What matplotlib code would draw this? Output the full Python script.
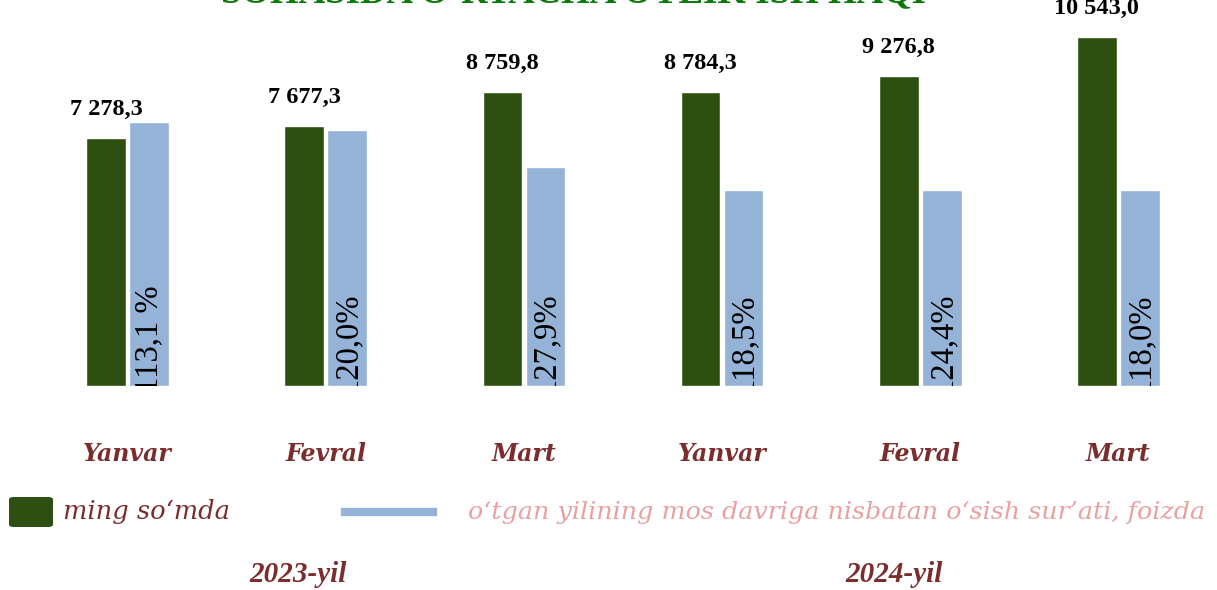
import numpy as np
import matplotlib.pyplot as plt
from matplotlib.patches import FancyBboxPatch
from matplotlib.lines import Line2D

months = ['Yanvar', 'Fevral', 'Mart', 'Yanvar', 'Fevral', 'Mart']
years = ['2023-yil', '2024-yil']
salary = [7278.3, 7677.3, 8759.8, 8784.3, 9276.8, 10543.0]
salary_labels = ['7 278,3', '7 677,3', '8 759,8', '8 784,3', '9 276,8', '10 543,0']
growth_labels = ['113,1 %', '120,0%', '127,9%', '118,5%', '124,4%', '118,0%']
# heights of the blue bars as drawn in the picture (same scale as salary)
growth_bar = [7810, 7550, 6360, 5620, 5620, 5620]

green = '#2d5011'
blue = '#95b3d7'
maroon = '#7b2d2d'
pink = '#e8a0a0'

base = -700  # the value axis does not start at zero in the original

fig = plt.figure(figsize=(12.17, 5.90), dpi=100)
ax = fig.add_axes([28.5 / 1217, 204 / 590, 1189 / 1217, 386 / 590])

x = np.arange(len(months))
off = 0.1086
w = 0.2
ax.bar(x - off, np.array(salary) - base, w, bottom=base, color=green,
       edgecolor='white', linewidth=1)
ax.bar(x + off, np.array(growth_bar) - base, w, bottom=base, color=blue,
       edgecolor='white', linewidth=1)

for xi, v, lab in zip(x, salary, salary_labels):
    ax.annotate(lab, (xi - off, v), xytext=(0, 13), textcoords='offset points',
                ha='center', va='bottom', fontsize=17.5, fontweight='bold',
                family='Liberation Serif')

for xi, lab in zip(x, growth_labels):
    ax.annotate(lab, (xi + off, base), xytext=(0, -5), textcoords='offset points',
                ha='center', va='bottom', rotation=90, fontsize=23.5,
                family='Liberation Serif', clip_on=True)

ax.set_xlim(-0.5, 5.5)
ax.set_ylim(base, 11740)
ax.set_xticks(x, months)
ax.tick_params(axis='x', length=0, pad=40, labelsize=17, labelcolor=maroon)
for t in ax.get_xticklabels():
    t.set_family('DejaVu Serif')
    t.set_fontweight('bold')
    t.set_fontstyle('italic')
ax.set_yticks([])
for s in ax.spines.values():
    s.set_visible(False)

# title (cut at the top edge)
fig.text(0.471, 1 - 3 / 590, "SOHASIDA O\u2018RTACHA OYLIK ISH HAQI", ha='center',
         va='baseline', fontsize=26.5, fontweight='bold', color='#0b7a0b',
         family='Liberation Serif')

# legend
fig.patches.append(FancyBboxPatch((9 / 1217, 1 - 527 / 590), 44 / 1217, 30 / 590,
                                  boxstyle='round,pad=0,rounding_size=0.004',
                                  transform=fig.transFigure, facecolor=green,
                                  edgecolor='none'))
fig.text(63 / 1217, 1 - 512 / 590, 'ming so\u2018mda', ha='left', va='center',
         fontsize=18.5, style='italic', color=maroon, family='DejaVu Serif')
fig.lines.append(Line2D([345 / 1217, 433 / 1217], [1 - 512 / 590] * 2,
                        transform=fig.transFigure, color=blue, lw=6))
fig.text(468 / 1217, 1 - 512 / 590,
         'o\u2018tgan yilining mos davriga nisbatan o\u2018sish sur\u2019ati, foizda',
         ha='left', va='center', fontsize=18.3, style='italic', color=pink,
         family='DejaVu Serif')

for xc, yr in zip([298, 894], years):
    fig.text(xc / 1217, 1 - 575 / 590, yr, ha='center', va='center', fontsize=21,
             fontweight='bold', style='italic', color=maroon,
             family='Liberation Serif')

plt.savefig('out.png', dpi=100)
